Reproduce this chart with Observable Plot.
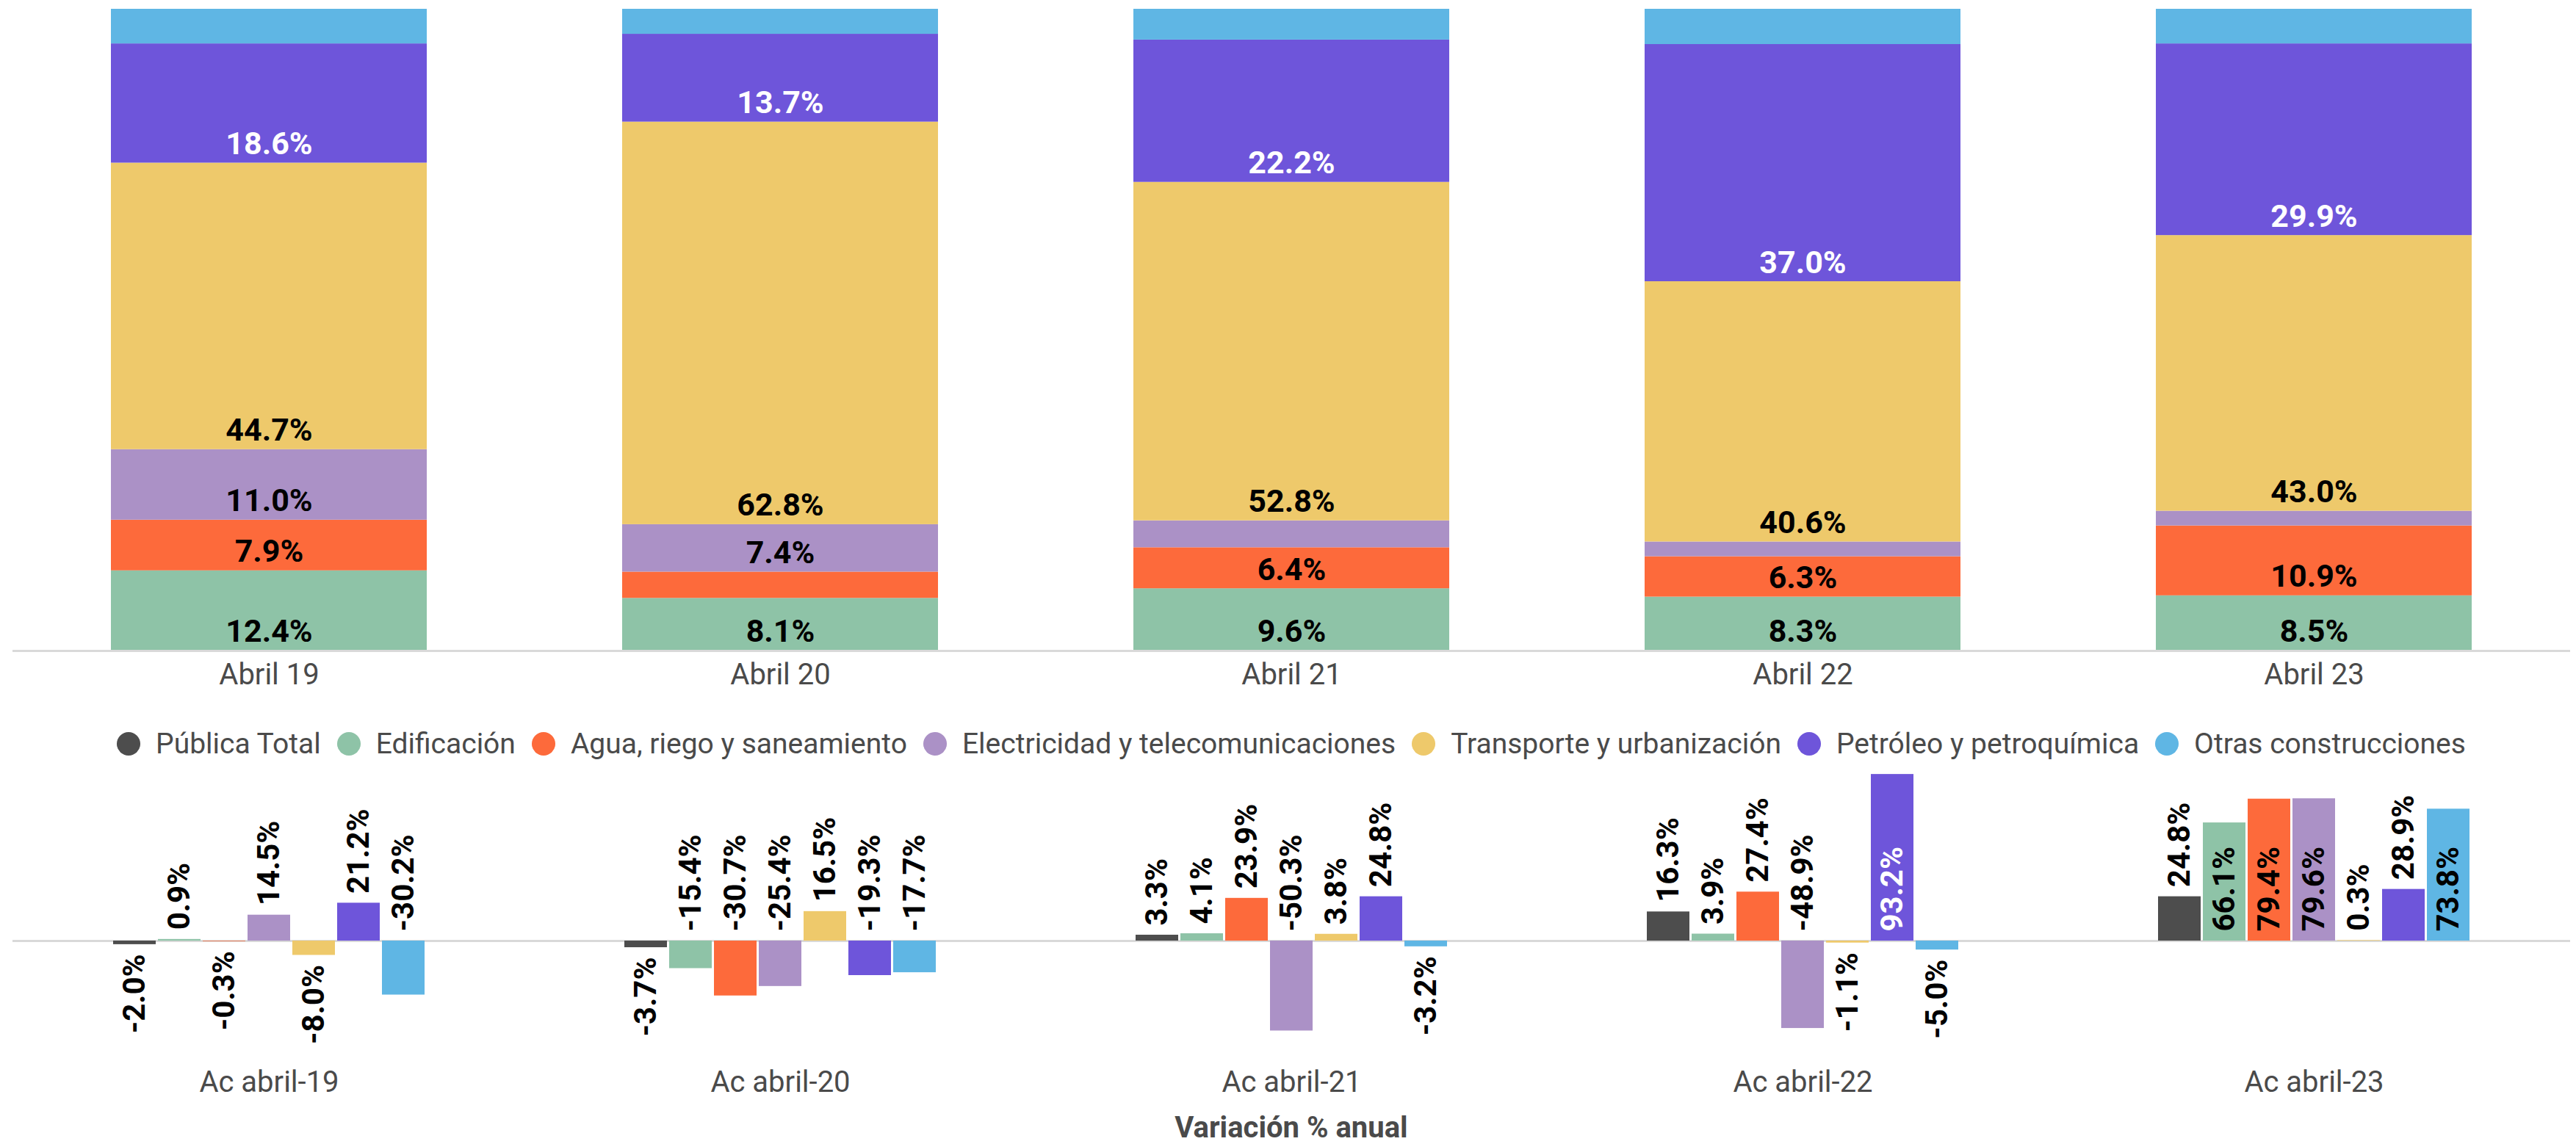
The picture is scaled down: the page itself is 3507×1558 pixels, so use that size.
<!DOCTYPE html>
<html>
<head>
<meta charset="utf-8">
<script src="https://cdn.jsdelivr.net/npm/d3@7"></script>
<script src="https://cdn.jsdelivr.net/npm/@observablehq/plot@0.6"></script>
<style>
  html, body { margin: 0; padding: 0; background: #ffffff; }
  #root { position: relative; width: 3507px; height: 1558px; overflow: hidden; font-family: Roboto, sans-serif; color: #4a4a4a; background: #fff; }
  #top { position: absolute; left: 0; top: 0; }
  #legend { position: absolute; left: 17px; width: 3482px; top: 993px; height: 40px; display: flex; justify-content: center; align-items: center; font-size: 39px; line-height: 39px; white-space: nowrap; }
  .item { display: flex; align-items: center; margin: 0 11px; }
  .dot { width: 32px; height: 32px; border-radius: 50%; margin-right: 21px; flex: none; }
  #bottom { position: absolute; left: 0; top: 1040px; }
  #caption { position: absolute; left: 17px; width: 3482px; top: 1516px; text-align: center; font-weight: bold; font-size: 40px; line-height: 40px; }
</style>
</head>
<body>
<div id="root">
  <div id="top"></div>
  <div id="legend"></div>
  <div id="bottom"></div>
  <div id="caption">Variación % anual</div>
</div>
<script>
// ---------- Data: participación (top chart) ----------
const topPeriods = ["Abril 19", "Abril 20", "Abril 21", "Abril 22", "Abril 23"];
const shareCats = ["Edificación", "Agua, riego y saneamiento", "Electricidad y telecomunicaciones", "Transporte y urbanización", "Petróleo y petroquímica", "Otras construcciones"];
const shareEdificacion   = [12.4, 8.1, 9.6, 8.3, 8.5];
const shareAgua          = [7.9, 4.1, 6.4, 6.3, 10.9];
const shareElectricidad  = [11.0, 7.4, 4.2, 2.3, 2.3];
const shareTransporte    = [44.7, 62.8, 52.8, 40.6, 43.0];
const sharePetroleo      = [18.6, 13.7, 22.2, 37.0, 29.9];
const shareOtras         = [5.4, 3.9, 4.8, 5.5, 5.4];

// ---------- Data: variación % anual (bottom chart) ----------
const varPeriods = ["Ac abril-19", "Ac abril-20", "Ac abril-21", "Ac abril-22", "Ac abril-23"];
const varCats = ["Pública Total", "Edificación", "Agua, riego y saneamiento", "Electricidad y telecomunicaciones", "Transporte y urbanización", "Petróleo y petroquímica", "Otras construcciones"];
const varPublica       = [-2.0, -3.7, 3.3, 16.3, 24.8];
const varEdificacion   = [0.9, -15.4, 4.1, 3.9, 66.1];
const varAgua          = [-0.3, -30.7, 23.9, 27.4, 79.4];
const varElectricidad  = [14.5, -25.4, -50.3, -48.9, 79.6];
const varTransporte    = [-8.0, 16.5, 3.8, -1.1, 0.3];
const varPetroleo      = [21.2, -19.3, 24.8, 93.2, 28.9];
const varOtras         = [-30.2, -17.7, -3.2, -5.0, 73.8];

const catColors = ["#4d4d4d", "#8ec3a7", "#fd6a3b", "#ab91c6", "#eec96b", "#6e55da", "#5fb6e4"];

// ---------- Tables built from the arrays ----------
const shareSeries = [shareEdificacion, shareAgua, shareElectricidad, shareTransporte, sharePetroleo, shareOtras];
const shareRows = shareSeries.flatMap((vals, c) => vals.map((v, i) => ({period: topPeriods[i], cat: shareCats[c], value: v})));
const varSeries = [varPublica, varEdificacion, varAgua, varElectricidad, varTransporte, varPetroleo, varOtras];
const varRows = varSeries.flatMap((vals, c) => vals.map((v, i) => ({period: varPeriods[i], cat: varCats[c], value: v})));

const PETRO = "Petróleo y petroquímica";
const fmt = v => v.toFixed(1) + "%";
const baseStyle = {fontFamily: "Roboto, sans-serif", fontSize: "40px", color: "#4a4a4a", background: "transparent", overflow: "visible"};

// ---------- Top: 100% stacked bars ----------
const topPlot = Plot.plot({
  width: 3507, height: 950,
  marginTop: 12, marginBottom: 65, marginLeft: 17, marginRight: 8,
  style: baseStyle,
  x: {domain: topPeriods, paddingInner: 0.382, paddingOuter: 0.191, label: null, tickSize: 0, tickPadding: 18},
  y: {domain: [0, 100], axis: null},
  color: {domain: varCats, range: catColors},
  marks: [
    Plot.ruleY([0], {stroke: "#d9d9d9", strokeWidth: 3, dy: 1}),
    Plot.barY(shareRows, {x: "period", y: "value", fill: "cat"}),
    Plot.text(shareRows, Plot.stackY1({x: "period", y: "value", z: "cat",
      text: d => (d.value >= 6 && d.cat !== PETRO) ? fmt(d.value) : null,
      fill: "black", fontWeight: "bold", fontSize: 43, lineAnchor: "bottom", dy: -12})),
    Plot.text(shareRows, Plot.stackY1({x: "period", y: "value", z: "cat",
      text: d => (d.value >= 6 && d.cat === PETRO) ? fmt(d.value) : null,
      fill: "white", fontWeight: "bold", fontSize: 43, lineAnchor: "bottom", dy: -12}))
  ]
});
document.getElementById("top").appendChild(topPlot);

// ---------- Legend ----------
const legend = document.getElementById("legend");
varCats.forEach((c, i) => {
  const item = document.createElement("div");
  item.className = "item";
  const dot = document.createElement("span");
  dot.className = "dot";
  dot.style.background = catColors[i];
  const lab = document.createElement("span");
  lab.textContent = c;
  item.appendChild(dot);
  item.appendChild(lab);
  legend.appendChild(item);
});

// ---------- Bottom: grouped bars of annual variation ----------
const upY = d => {
  const v = d.value;
  if (v >= 0 && v < 50) return v;          // above bar end
  if (v <= -10 || v >= 50) return 0;        // starting at zero, going up
  return null;
};
const downY = d => (d.value < 0 && d.value > -10) ? d.value : null;
const isWhite = d => d.cat === PETRO && d.value >= 50;

const labelCommon = {fx: "period", x: "cat", text: d => fmt(d.value), rotate: -90,
  fontWeight: "bold", fontSize: 42, fontFamily: "Roboto, sans-serif"};

const bottomPlot = Plot.plot({
  width: 3507, height: 460,
  marginTop: 0, marginBottom: 70, marginLeft: 17, marginRight: 8,
  style: baseStyle,
  fx: {domain: varPeriods, paddingInner: 0.382, paddingOuter: 0.191, label: null, tickSize: 0, tickPadding: 28, axis: "bottom"},
  x: {domain: varCats, paddingInner: 0.05, paddingOuter: 0, axis: null},
  y: {domain: [-61.2, 99], axis: null},
  color: {domain: varCats, range: catColors},
  marks: [
    // zero line, extended across the gaps between groups
    Plot.ruleY([0], {stroke: "#d9d9d9", strokeWidth: 3, insetLeft: -134, insetRight: -134}),
    Plot.barY(varRows, {fx: "period", x: "cat", y: "value", fill: "cat"}),
    Plot.text(varRows, {...labelCommon, y: d => isWhite(d) ? null : upY(d), textAnchor: "start", dy: -13, fill: "black"}),
    Plot.text(varRows, {...labelCommon, y: d => isWhite(d) ? upY(d) : null, textAnchor: "start", dy: -13, fill: "white"}),
    Plot.text(varRows, {...labelCommon, y: downY, textAnchor: "end", dy: 13, fill: "black"})
  ]
});
document.getElementById("bottom").appendChild(bottomPlot);
</script>
</body>
</html>
